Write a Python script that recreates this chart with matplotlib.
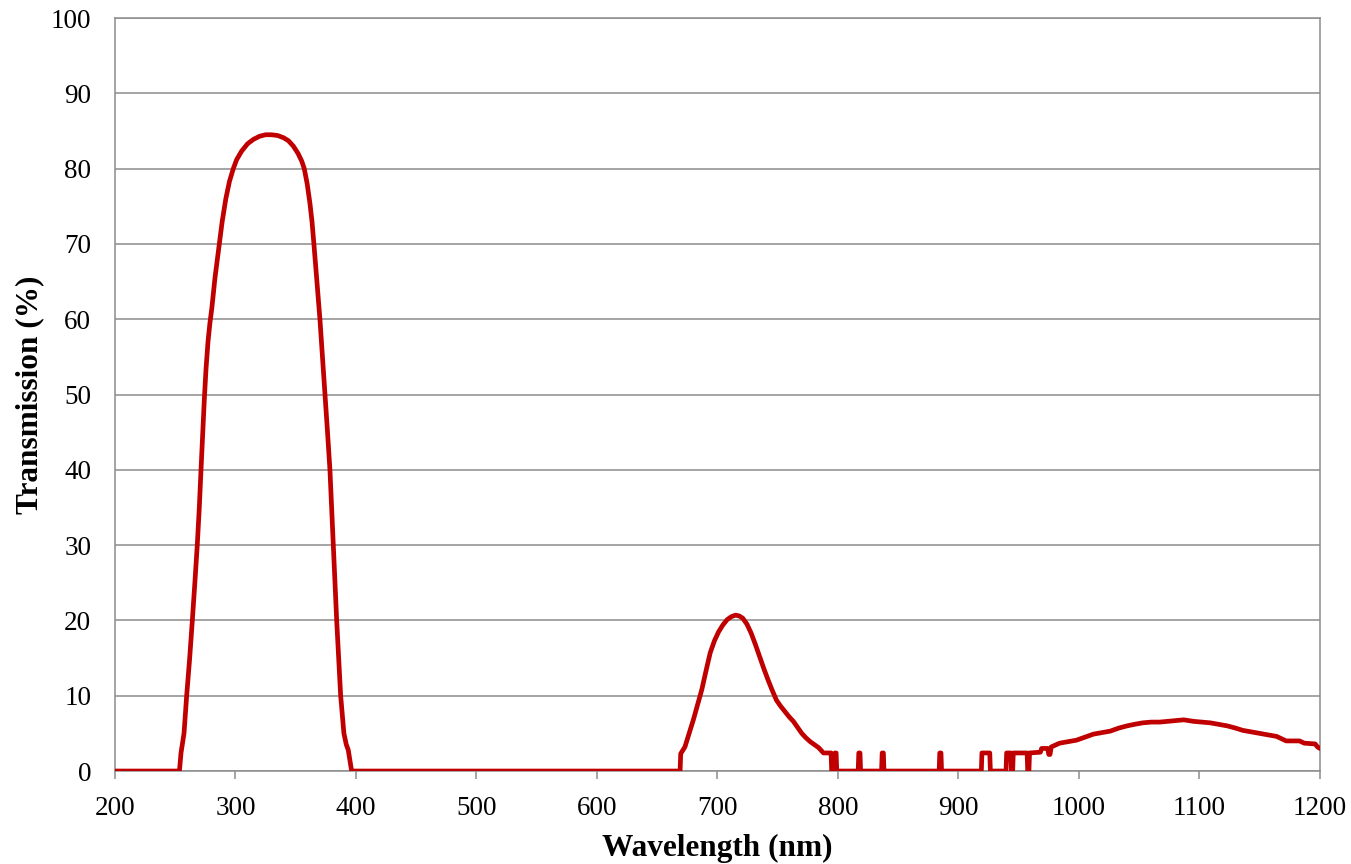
import matplotlib
matplotlib.use("Agg")
import matplotlib.pyplot as plt

plt.rcParams["font.family"] = ["Liberation Serif", "DejaVu Serif"]

# wavelength (nm) and transmission (%)
wavelength = [
    200, 253.5, 254.8, 257.3, 259.5, 262, 264.2, 266.3, 268.3, 270,
    271.4, 272.9, 274.2, 275.6, 277.2, 278.8, 280.4, 283, 286.6, 289,
    292, 295, 298.2, 301, 305, 310, 315, 320, 325, 330,
    335, 340, 344, 348, 352, 355, 357.1, 359.5, 361.8, 363.5,
    365.1, 367.6, 370.1, 372.2, 374.3, 376.4, 378.4, 381.2, 384, 387.3,
    390, 392, 393.6, 396.4,
    669, 669.5, 673, 676.5, 680, 683.5, 687, 690.5, 694, 697.5,
    701, 704.5, 708, 711.5, 715, 718, 721, 724.5, 728, 731.5,
    735, 738.5, 742, 745.5, 749, 752.5, 756, 759.5, 763, 766.5,
    770, 773.5, 777, 780.5, 784, 788,
    794.3, 794.8, 797, 797.5, 798.5, 799,
    816.8, 817.3, 818.3, 818.8,
    836.2, 836.7, 837.7, 838.2,
    884, 884.5, 885.5, 886,
    919, 919.5, 926, 926.5,
    939.5, 940, 943.5, 944, 945, 945.5, 957, 957.5, 958.5, 959,
    968, 969, 974, 975, 976, 977, 984, 991, 998, 1005,
    1012, 1019, 1026, 1033, 1040, 1046, 1053, 1060, 1067, 1074,
    1081, 1087, 1095, 1102, 1109, 1116, 1123, 1130, 1136, 1143,
    1150, 1157, 1164, 1172, 1183, 1187, 1196, 1198, 1200,
]
transmission = [
    0, 0, 2.4, 5, 10, 15, 20, 25, 30, 35,
    40, 45, 49.5, 53.5, 57, 59.5, 61.5, 65.5, 70, 73,
    76, 78.3, 80, 81.2, 82.3, 83.3, 83.9, 84.3, 84.5, 84.5,
    84.4, 84.1, 83.7, 83.0, 82.0, 81.0, 80, 78, 75.4, 73,
    70, 65, 60, 55, 50, 45, 40, 30, 20, 10,
    5, 3.5, 2.8, 0,
    0, 2.3, 3.2, 5.0, 6.8, 8.8, 10.8, 13.3, 15.7, 17.3,
    18.5, 19.4, 20.1, 20.5, 20.7, 20.6, 20.3, 19.5, 18.3, 16.8,
    15.2, 13.6, 12.1, 10.7, 9.4, 8.6, 7.9, 7.2, 6.6, 5.8,
    5.0, 4.4, 3.9, 3.5, 3.1, 2.4,
    2.4, 0, 0, 2.4, 2.4, 0,
    0, 2.4, 2.4, 0,
    0, 2.4, 2.4, 0,
    0, 2.4, 2.4, 0,
    0, 2.4, 2.4, 0,
    0, 2.4, 2.4, 0, 0, 2.4, 2.4, 0, 0, 2.4,
    2.5, 3.0, 3.0, 2.2, 2.2, 3.2, 3.7, 3.9, 4.1, 4.5,
    4.9, 5.1, 5.3, 5.7, 6.0, 6.2, 6.4, 6.5, 6.5, 6.6,
    6.7, 6.8, 6.6, 6.5, 6.4, 6.2, 6.0, 5.7, 5.4, 5.2,
    5.0, 4.8, 4.6, 4.0, 4.0, 3.7, 3.6, 3.2, 3.0,
]

fig = plt.figure(figsize=(13.51, 8.64), dpi=100)
ax = fig.add_axes([0.0851, 0.1076, 0.8919, 0.8715])

ax.plot(wavelength, transmission, color="#C00000", lw=3.4,
        solid_joinstyle="round", solid_capstyle="round", zorder=3)

ax.set_xlim(200, 1200)
ax.set_ylim(0, 100)
ax.set_xticks(range(200, 1201, 100))
ax.set_yticks(range(0, 101, 10))
ax.yaxis.grid(True, color="#8c8c8c", lw=1.1)
ax.set_axisbelow(True)

for s in ax.spines.values():
    s.set_color("#8c8c8c")
    s.set_linewidth(1.1)

ax.tick_params(axis="x", length=6, width=1.1, color="#8c8c8c", pad=12, labelsize=19.5)
ax.tick_params(axis="y", length=0, pad=17, labelsize=19.5)

ax.set_xlabel("Wavelength (nm)", fontsize=22.5, fontweight="bold", labelpad=9)
ax.set_ylabel("Transmission (%)", fontsize=22.5, fontweight="bold", labelpad=5)

fig.savefig("out.png", dpi=100)
